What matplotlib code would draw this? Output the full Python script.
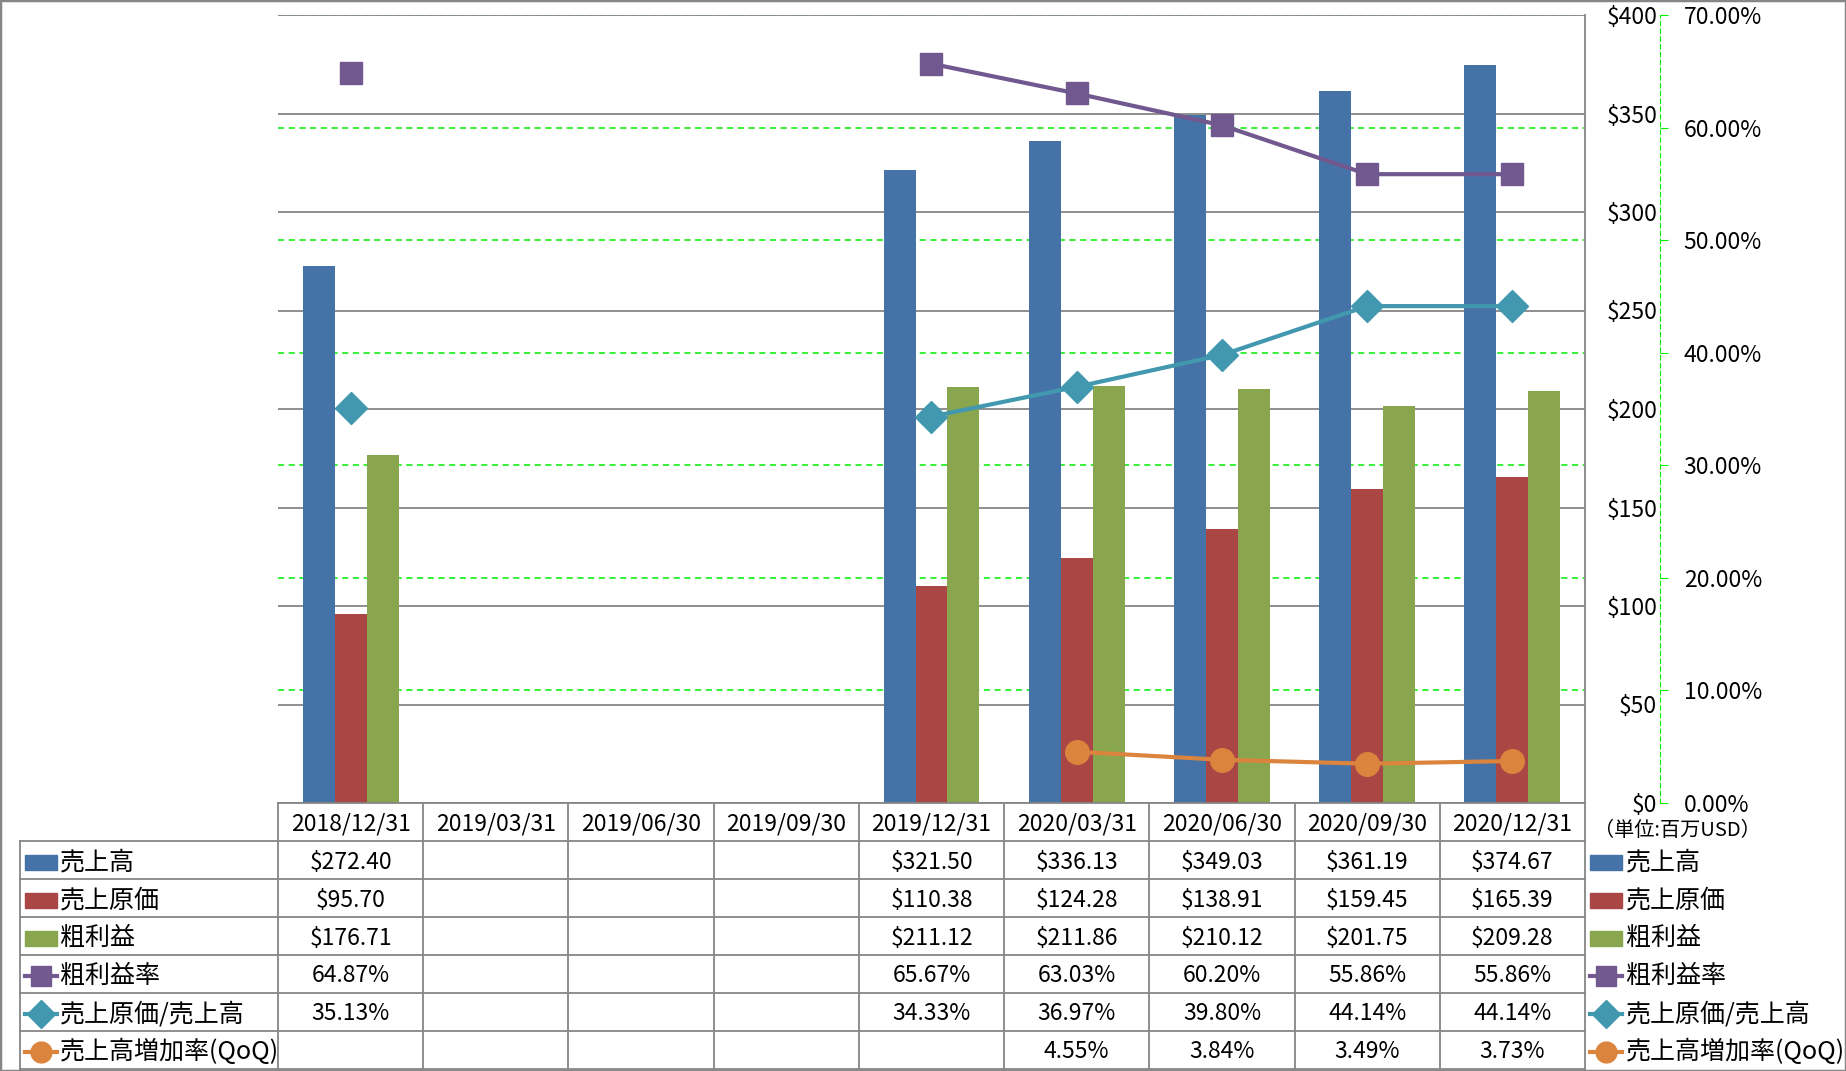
import matplotlib
matplotlib.use('Agg')
import matplotlib.pyplot as plt
import matplotlib.transforms as mtransforms
from matplotlib.lines import Line2D
from matplotlib.patches import Rectangle
import numpy as np

plt.rcParams['font.family'] = ['Noto Sans CJK JP', 'DejaVu Sans']

nan = np.nan
dates = ['2018/12/31', '2019/03/31', '2019/06/30', '2019/09/30', '2019/12/31',
         '2020/03/31', '2020/06/30', '2020/09/30', '2020/12/31']
sales = [272.40, nan, nan, nan, 321.50, 336.13, 349.03, 361.19, 374.67]
cost = [95.70, nan, nan, nan, 110.38, 124.28, 138.91, 159.45, 165.39]
gross = [176.71, nan, nan, nan, 211.12, 211.86, 210.12, 201.75, 209.28]
margin = [64.87, nan, nan, nan, 65.67, 63.03, 60.20, 55.86, 55.86]
cost_ratio = [35.13, nan, nan, nan, 34.33, 36.97, 39.80, 44.14, 44.14]
growth = [nan, nan, nan, nan, nan, 4.55, 3.84, 3.49, 3.73]

names = ['売上高', '売上原価', '粗利益', '粗利益率', '売上原価/売上高', '売上高増加率(QoQ)']
colors = ['#4572A7', '#AA4643', '#89A54E', '#71588F', '#4198AF', '#DB843D']
markers = [None, None, None, 's', 'D', 'o']
msizes = [0, 0, 0, 16, 16, 17]

W, H = 1846, 1071
def fx(px):
    return px / W
def fy(py):
    return 1 - py / H

L, R, T, B = 278, 1585, 15, 803
GRID = '#868686'
FS = 16.5

fig = plt.figure(figsize=(W / 100, H / 100), dpi=100)
ax = fig.add_axes([fx(L), fy(B), (R - L) / W, (B - T) / H])
ax_pct = ax.twinx()
ax_ln = ax.twinx()
ax_pct.set_zorder(0)
ax.set_zorder(1)
ax_ln.set_zorder(2)
ax.patch.set_visible(False)

x = np.arange(len(dates))
w = 0.22
for k, vals in enumerate([sales, cost, gross]):
    ax.bar(x + (k - 1) * w, vals, w, color=colors[k], zorder=2)

ax.set_xlim(-0.5, len(dates) - 0.5)
ax.set_ylim(0, 400)
ax.set_yticks(np.arange(0, 401, 50))
ax.set_yticklabels(['$' + str(v) for v in range(0, 401, 50)])
ax.yaxis.tick_right()
ax.tick_params(axis='y', length=0, pad=52, labelsize=FS)
for lab in ax.get_yticklabels():
    lab.set_horizontalalignment('right')
ax.set_xticks([])
ax.set_axisbelow(True)
ax.yaxis.grid(True, color=GRID, lw=1.3)
for s in ['left', 'top', 'bottom']:
    ax.spines[s].set_visible(False)
ax.spines['right'].set_color(GRID)
ax.spines['right'].set_linewidth(1.3)

# percent axis (green dashed)
ax_pct.set_ylim(0, 70)
ax_pct.set_yticks(np.arange(0, 71, 10))
ax_pct.set_yticklabels(['%.2f%%' % v for v in range(0, 71, 10)])
ax_pct.yaxis.grid(True, color='#00EE00', lw=1.1, linestyle=(0, (4, 3)))
for s in ['left', 'top', 'bottom']:
    ax_pct.spines[s].set_visible(False)
ax_pct.spines['right'].set_position(('axes', (1660 - L) / (R - L)))
ax_pct.spines['right'].set_color('#00EE00')
ax_pct.spines['right'].set_linestyle((0, (4, 3)))
ax_pct.tick_params(axis='y', length=6, color='#00EE00', pad=11, labelsize=FS)

ax_ln.set_ylim(0, 70)
ax_ln.axis('off')
for k, vals in zip([3, 4, 5], [margin, cost_ratio, growth]):
    ax_ln.plot(x, vals, color=colors[k], lw=3, marker=markers[k], ms=msizes[k],
               markeredgecolor=colors[k], clip_on=False)

ax_pct.text(fx(1594), fy(830), '（単位:百万USD）', transform=fig.transFigure,
            fontsize=14.5, va='center', ha='left')

# data table
trans = mtransforms.blended_transform_factory(ax.transData, fig.transFigure)
ROW0, RH = 841, 38
nrows = 6
bottom = ROW0 + RH * nrows
for i in range(len(dates) + 1):
    b = i - 0.5
    fig.add_artist(Line2D([b, b], [fy(B), fy(bottom)], transform=trans, color=GRID, lw=1.3))
fig.add_artist(Line2D([fx(20), fx(20)], [fy(ROW0), fy(bottom)], color=GRID, lw=1.3))
fig.add_artist(Line2D([-0.5, len(dates) - 0.5], [fy(B), fy(B)], transform=trans, color=GRID, lw=1.3))
for r in range(nrows + 1):
    yy = fy(ROW0 + RH * r)
    fig.add_artist(Line2D([fx(20), fx(R)], [yy, yy], color=GRID, lw=1.3))

for i, d in enumerate(dates):
    fig.text(i, fy((B + ROW0) / 2 + 2), d, transform=trans, ha='center', va='center', fontsize=FS)

rows = [sales, cost, gross, margin, cost_ratio, growth]
fmts = ['$%.2f', '$%.2f', '$%.2f', '%.2f%%', '%.2f%%', '%.2f%%']
for r, (vals, fmt) in enumerate(zip(rows, fmts)):
    yc = fy(ROW0 + RH * r + RH / 2 + 2)
    for i, v in enumerate(vals):
        if not np.isnan(v):
            fig.text(i, yc, fmt % v, transform=trans, ha='center', va='center', fontsize=FS)

# legend keys (left in table, right outside)
def legend_key(x0, x1, yc, k):
    if markers[k] is None:
        fig.add_artist(Rectangle((fx(x0), yc - 7.5 / H), (x1 - x0) / W, 15 / H,
                                 transform=fig.transFigure, color=colors[k]))
    else:
        fig.add_artist(Line2D([fx(x0), fx(x1)], [yc, yc], color=colors[k], lw=3))
        fig.add_artist(Line2D([fx((x0 + x1) / 2)], [yc], color=colors[k], marker=markers[k],
                              ms=msizes[k] - 2, markeredgecolor=colors[k]))

for k, name in enumerate(names):
    yc = fy(ROW0 + RH * k + RH / 2 + 2)
    legend_key(25, 57, yc, k)
    fig.text(fx(60), yc, name, ha='left', va='center', fontsize=18)
    legend_key(1590, 1622, yc, k)
    fig.text(fx(1626), yc, name, ha='left', va='center', fontsize=18)

fig.add_artist(Rectangle((0, 0), 1, 1, transform=fig.transFigure, fill=False,
                         edgecolor=GRID, lw=2.5))

fig.savefig('out.png', dpi=100)
